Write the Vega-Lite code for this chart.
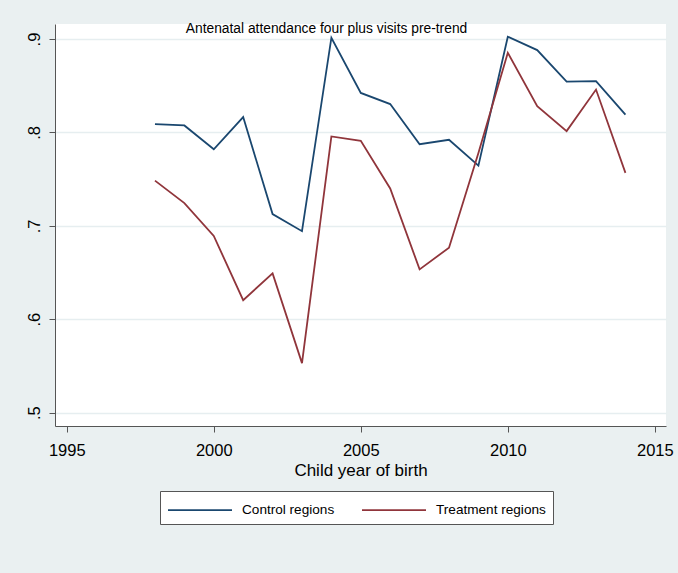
{
  "$schema": "https://vega.github.io/schema/vega-lite/v6.json",
  "width": 611,
  "height": 402,
  "autosize": {"type": "none"},
  "padding": {"left": 55, "top": 24, "right": 12, "bottom": 147},
  "background": "#eaf0f1",
  "title": {
    "text": "Antenatal attendance four plus visits pre-trend",
    "anchor": "middle",
    "frame": "group",
    "baseline": "alphabetic",
    "offset": 0,
    "dx": -34,
    "dy": 23,
    "fontSize": 13.8,
    "fontWeight": "normal",
    "font": "Liberation Sans, Arial, sans-serif",
    "color": "#000000"
  },
  "config": {
    "view": {"fill": "white", "stroke": null},
    "font": "Liberation Sans, Arial, sans-serif"
  },
  "data": {
    "values": [
      {"year": 1998, "group": "Control regions", "value": 0.809},
      {"year": 1999, "group": "Control regions", "value": 0.8075},
      {"year": 2000, "group": "Control regions", "value": 0.782},
      {"year": 2001, "group": "Control regions", "value": 0.8165},
      {"year": 2002, "group": "Control regions", "value": 0.7126},
      {"year": 2003, "group": "Control regions", "value": 0.6943},
      {"year": 2004, "group": "Control regions", "value": 0.9014},
      {"year": 2005, "group": "Control regions", "value": 0.8423},
      {"year": 2006, "group": "Control regions", "value": 0.8304},
      {"year": 2007, "group": "Control regions", "value": 0.7874},
      {"year": 2008, "group": "Control regions", "value": 0.7921},
      {"year": 2009, "group": "Control regions", "value": 0.7645},
      {"year": 2010, "group": "Control regions", "value": 0.9025},
      {"year": 2011, "group": "Control regions", "value": 0.8882},
      {"year": 2012, "group": "Control regions", "value": 0.8545},
      {"year": 2013, "group": "Control regions", "value": 0.855},
      {"year": 2014, "group": "Control regions", "value": 0.819},
      {"year": 1998, "group": "Treatment regions", "value": 0.7484},
      {"year": 1999, "group": "Treatment regions", "value": 0.7244},
      {"year": 2000, "group": "Treatment regions", "value": 0.6892},
      {"year": 2001, "group": "Treatment regions", "value": 0.6204},
      {"year": 2002, "group": "Treatment regions", "value": 0.6491},
      {"year": 2003, "group": "Treatment regions", "value": 0.553},
      {"year": 2004, "group": "Treatment regions", "value": 0.7957},
      {"year": 2005, "group": "Treatment regions", "value": 0.7911},
      {"year": 2006, "group": "Treatment regions", "value": 0.74},
      {"year": 2007, "group": "Treatment regions", "value": 0.6534},
      {"year": 2008, "group": "Treatment regions", "value": 0.6766},
      {"year": 2009, "group": "Treatment regions", "value": 0.778},
      {"year": 2010, "group": "Treatment regions", "value": 0.8853},
      {"year": 2011, "group": "Treatment regions", "value": 0.828},
      {"year": 2012, "group": "Treatment regions", "value": 0.8014},
      {"year": 2013, "group": "Treatment regions", "value": 0.8459},
      {"year": 2014, "group": "Treatment regions", "value": 0.7567}
    ]
  },
  "mark": {"type": "line", "strokeWidth": 1.8, "clip": true},
  "encoding": {
    "x": {
      "field": "year",
      "type": "quantitative",
      "scale": {"domain": [1994.6, 2015.38], "nice": false, "zero": false},
      "axis": {
        "title": "Child year of birth",
        "titleFontSize": 17,
        "titleFontWeight": "normal",
        "titleColor": "#000000",
        "titleBaseline": "alphabetic",
        "titleY": 49,
        "values": [1995, 2000, 2005, 2010, 2015],
        "format": "d",
        "labelFontSize": 16.5,
        "labelColor": "#000000",
        "labelBaseline": "alphabetic",
        "labelPadding": 23,
        "tickSize": 6,
        "tickColor": "#555555",
        "domainColor": "#555555",
        "grid": false,
        "labelFlush": false
      }
    },
    "y": {
      "field": "value",
      "type": "quantitative",
      "scale": {"domain": [0.4857, 0.9161], "nice": false, "zero": false},
      "axis": {
        "title": null,
        "values": [0.5, 0.6, 0.7, 0.8, 0.9],
        "labelExpr": "substring(format(datum.value, '.1f'), 1)",
        "labelAngle": -90,
        "labelAlign": "center",
        "labelBaseline": "alphabetic",
        "labelPadding": 10,
        "labelFontSize": 16.5,
        "labelColor": "#000000",
        "tickSize": 6,
        "tickColor": "#555555",
        "domainColor": "#555555",
        "grid": true,
        "gridColor": "#e6eef0",
        "gridWidth": 1.5,
        "labelFlush": false
      }
    },
    "color": {
      "field": "group",
      "type": "nominal",
      "scale": {"domain": ["Control regions", "Treatment regions"], "range": ["#1a476f", "#90353b"]},
      "legend": {
        "title": null,
        "orient": "none",
        "legendX": 105,
        "legendY": 467,
        "direction": "horizontal",
        "columns": 2,
        "symbolType": "M-1,0H4.818",
        "symbolSize": 484,
        "symbolStrokeWidth": 1.8,
        "labelFontSize": 13.6,
        "labelColor": "#000000",
        "labelOffset": 51,
        "columnPadding": 23,
        "padding": 7,
        "fillColor": "#ffffff",
        "strokeColor": "#555555"
      }
    }
  }
}
